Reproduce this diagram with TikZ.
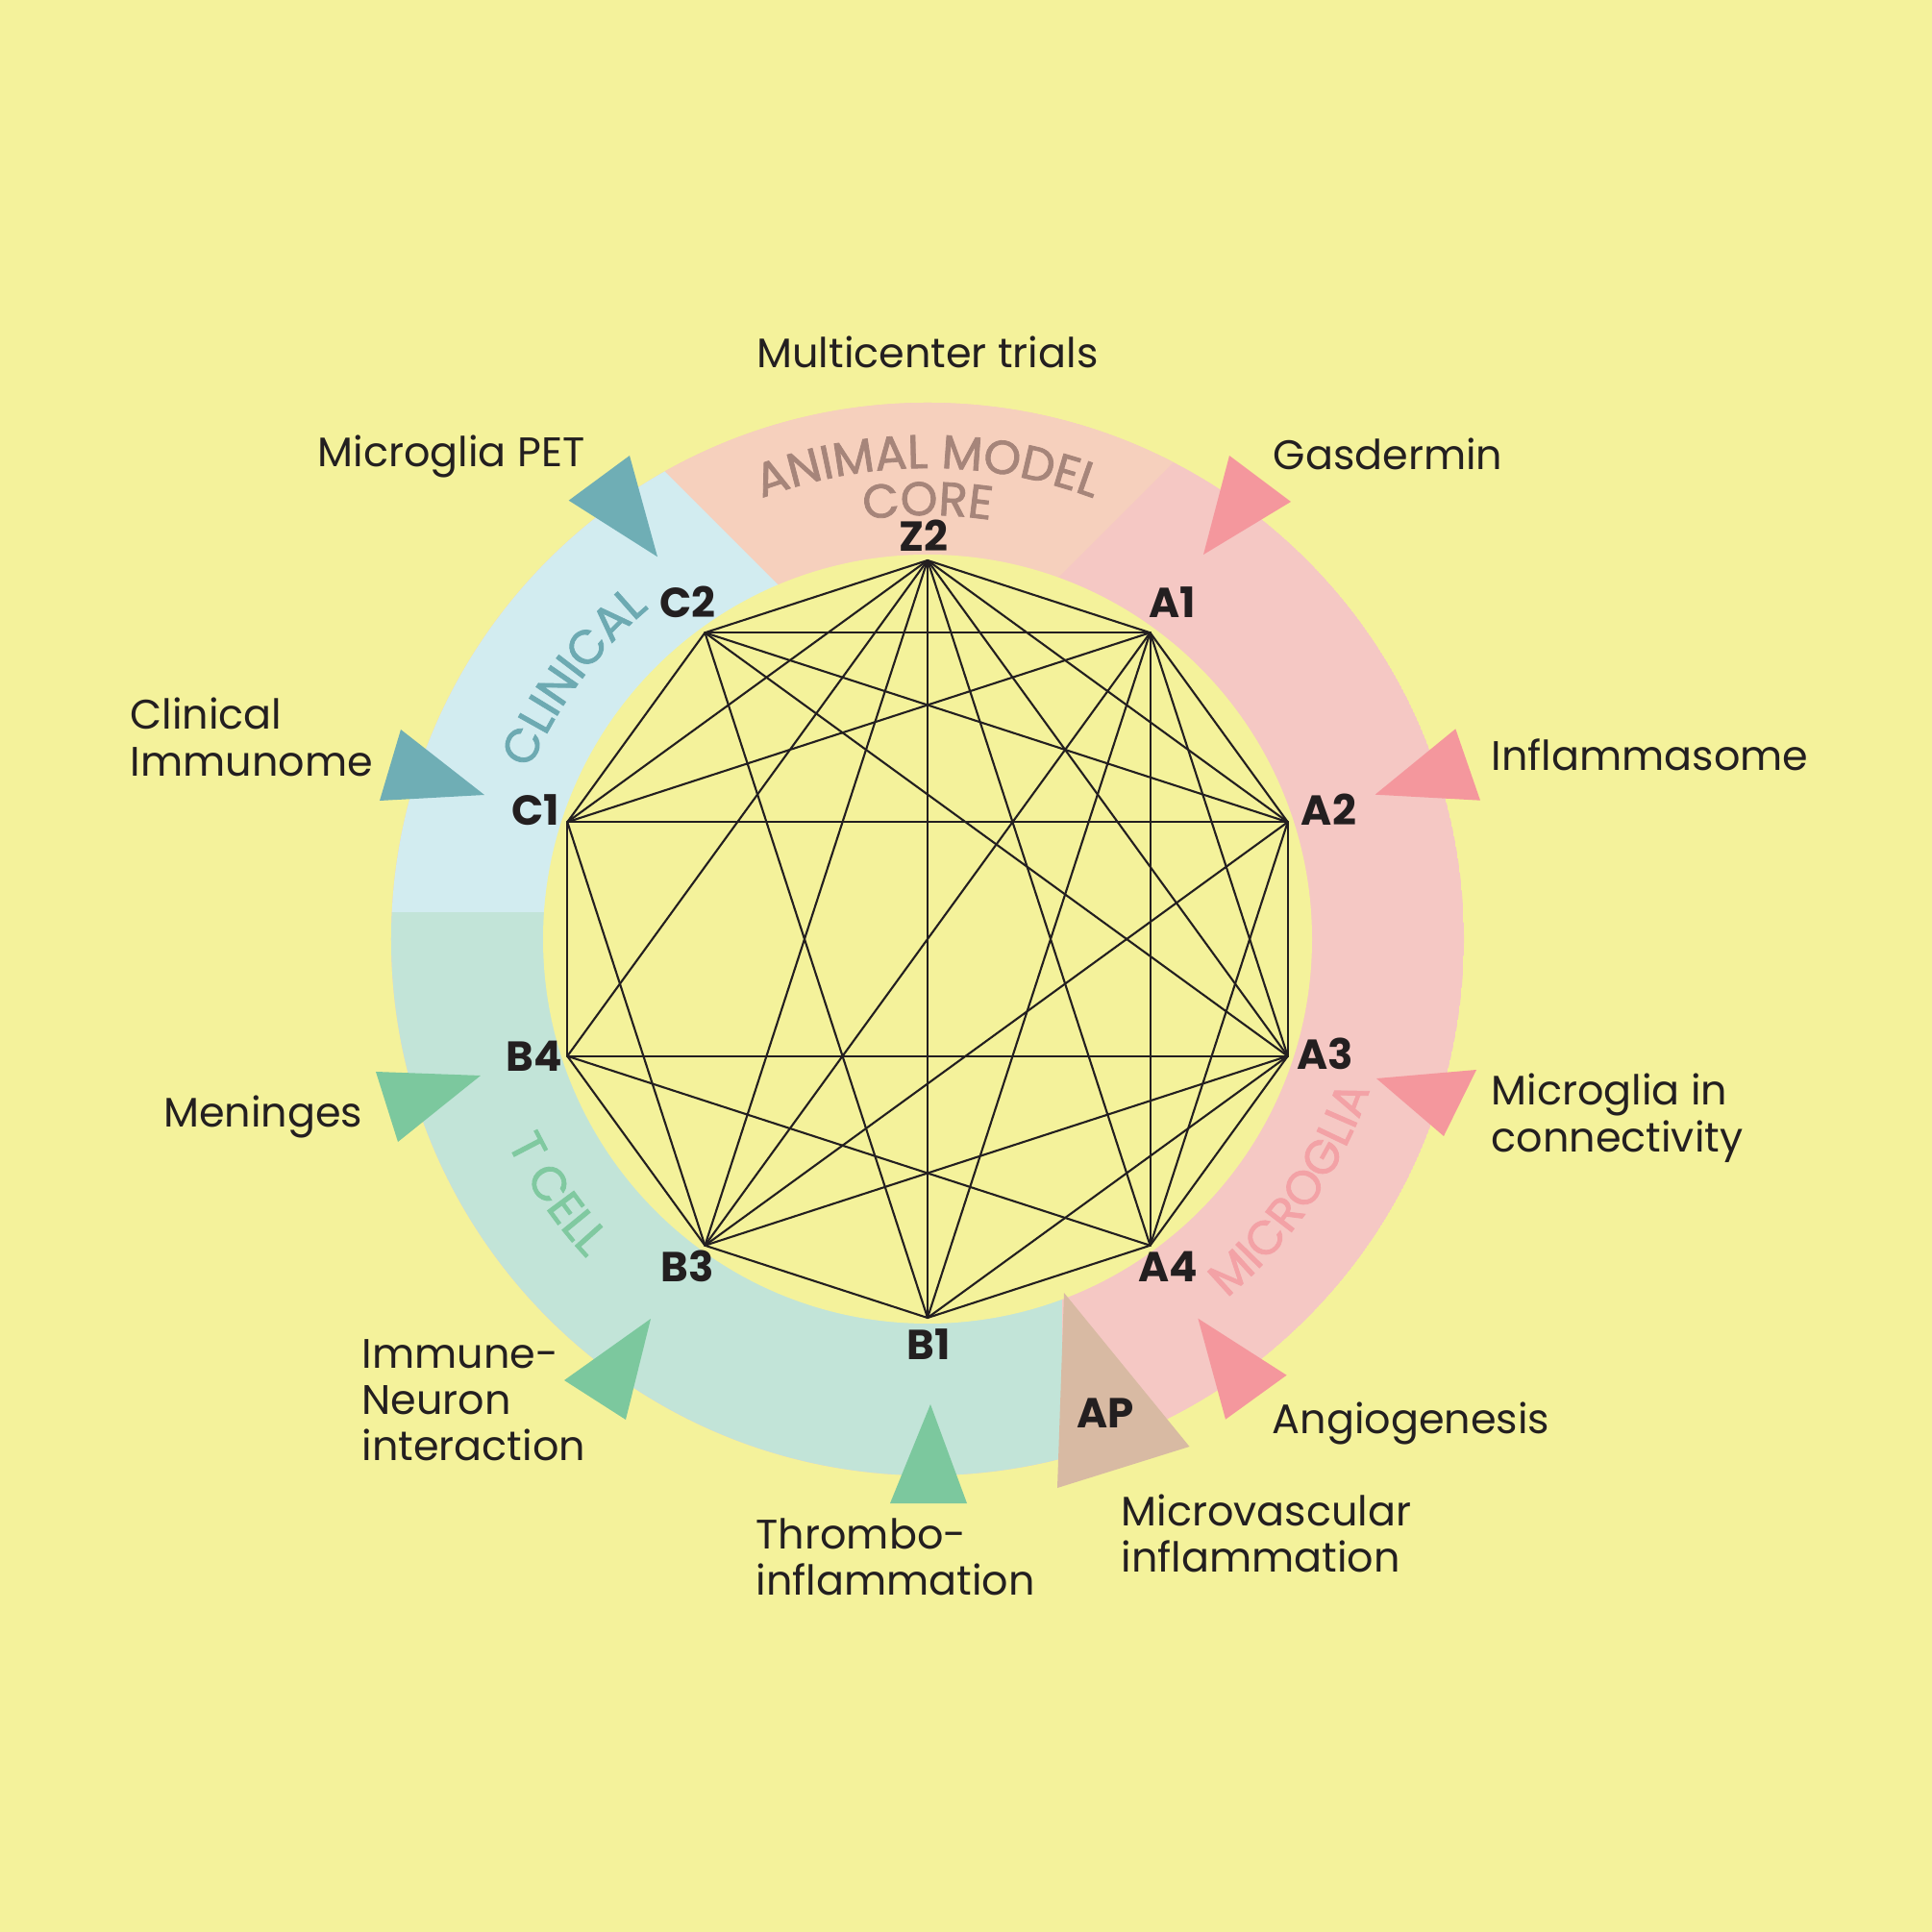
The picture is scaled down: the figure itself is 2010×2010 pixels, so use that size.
\documentclass[tikz,border=0pt]{standalone}
\usepackage{fontspec}
\setmainfont{Poppins}
\newfontface\ringface{Poppins}[FakeBold=1.6]
\usetikzlibrary{decorations.text}
\definecolor{bgY}{HTML}{F4F29B}
\definecolor{ringClin}{HTML}{D2ECF0}
\definecolor{ringAnim}{HTML}{F6D0BD}
\definecolor{ringMicro}{HTML}{F5C8C4}
\definecolor{ringT}{HTML}{C2E4D8}
\definecolor{triTeal}{HTML}{6FAEB5}
\definecolor{triGreen}{HTML}{7CC89E}
\definecolor{triPink}{HTML}{F4979D}
\definecolor{triTan}{HTML}{D8BAA3}
\definecolor{txtDark}{HTML}{231F20}
\definecolor{txtAnim}{HTML}{A6857A}
\definecolor{txtClin}{HTML}{6DAAB2}
\definecolor{txtT}{HTML}{80C9A0}
\definecolor{txtMicro}{HTML}{F3A2A6}
\newcommand\mlines[1]{\vtop{\lineskiplimit=-20pt\baselineskip=13.7pt\relax #1}}
\newcommand\fAnim{\ringface\fontsize{14}{16}\selectfont\color{txtAnim}}
\newcommand\fClin{\ringface\fontsize{14}{16}\selectfont\color{txtClin}}
\newcommand\fTcell{\ringface\fontsize{14}{16}\selectfont\color{txtT}}
\newcommand\fMicro{\ringface\fontsize{14}{16}\selectfont\color{txtMicro}}
\tikzset{
  lbl/.style={font=\fontsize{12.2}{13.7}\selectfont, text=txtDark, inner sep=0pt},
  vlbl/.style={font=\fontsize{12.4}{13}\selectfont\bfseries, text=txtDark, inner sep=0pt},
  link/.style={draw=txtDark, line width=0.6pt, line cap=round},
}
\begin{document}
\begin{tikzpicture}[x=0.01cm,y=0.01cm]
\useasboundingbox (-965,-1033) rectangle (1045,977);
\fill[bgY] (-965,-1033) rectangle (1045,977);
% ring sectors
\begin{scope}
  \clip (0,0) circle (558);
  \fill[ringMicro] (0,0) circle (558);
  \fill[ringAnim] (-13.5,226.5) -- (-700,913) -- (700,940) -- cycle;
  \fill[ringClin] (-700,28) -- (185,28) -- (-700,913) -- cycle;
  \fill[ringT] (-700,28) -- (140,28) -- (140,-700) -- (-700,-700) -- cycle;
  \fill[bgY] (0,0) circle (400);
\end{scope}
% ring texts
\path[decorate, decoration={text along path, text align=center, text={|\fAnim|ANIMAL MODEL}}]
  (130:490) arc[start angle=130, end angle=50, radius=490];
\path[decorate, decoration={text along path, text align=center, text={|\fAnim|CORE}}]
  (115:441) arc[start angle=115, end angle=65, radius=441];
\path[decorate, decoration={text along path, text align=center, text={|\fClin|CLINICAL}}]
  (173.5:450) arc[start angle=173.5, end angle=113.5, radius=450];
\path[decorate, decoration={text along path, text align=center, text={|\fMicro|MICROGLIA}}]
  (-64.5:486) arc[start angle=-64.5, end angle=-4.5, radius=486];
\path[decorate, decoration={text along path, text align=center, text={|\fTcell|T CELL}}]
  (184.5:486) arc[start angle=184.5, end angle=244.5, radius=486];
% triangles
\fill[triTeal] (-373.3,456.3) -- (-310,503) -- (-281,397.7) -- cycle;
\fill[triTeal] (-570,144) -- (-548,218) -- (-461,150) -- cycle;
\fill[triGreen] (-574,-138) -- (-465,-142) -- (-551,-211) -- cycle;
\fill[triGreen] (-378,-459) -- (-288,-395) -- (-314,-500) -- cycle;
\fill[triGreen] (-39,-587) -- (3,-484) -- (41,-587) -- cycle;
\fill[triTan] (142,-368) -- (272.5,-528) -- (135,-571) -- cycle;
\fill[triPink] (281.4,-394.7) -- (373.6,-453.7) -- (310,-499.7) -- cycle;
\fill[triPink] (467,-145) -- (571,-136) -- (537,-205) -- cycle;
\fill[triPink] (465.6,150.3) -- (549.3,218.7) -- (575,144.3) -- cycle;
\fill[triPink] (287,400) -- (314,503) -- (378,455) -- cycle;
% graph vertices
\coordinate (Z2) at (90:394);
\coordinate (A1) at (54:394);
\coordinate (A2) at (18:394);
\coordinate (A3) at (-18:394);
\coordinate (A4) at (-54:394);
\coordinate (B1) at (-90:394);
\coordinate (B3) at (-126:394);
\coordinate (B4) at (-162:394);
\coordinate (C1) at (162:394);
\coordinate (C2) at (126:394);
\foreach \a/\b in {Z2/C2, Z2/C1, Z2/B4, Z2/B3, Z2/B1, Z2/A4, Z2/A3, Z2/A2, Z2/A1,
  A1/C2, A1/C1, A1/B3, A1/B1, A1/A4, A1/A2, A1/A3,
  A2/C2, A2/C1, A2/B3, A2/A4, A2/A3,
  A3/C2, A3/B4, A3/B3, A3/B1, A3/A4,
  A4/B4, A4/B1, B1/B3, B1/C2, B3/B4, B3/C1, B4/C1, C1/C2}
  \draw[link] (\a) -- (\b);
% vertex labels
\node[vlbl, anchor=base] (lZ2) at (-4,403) {Z2};
\node[vlbl, anchor=base] (lA1) at (254.5,334) {A1};
\node[vlbl, anchor=base] (lA2) at (417.5,118) {A2};
\node[vlbl, anchor=base] (lA3) at (414,-136) {A3};
\node[vlbl, anchor=base] (lA4) at (250.5,-356) {A4};
\node[vlbl, anchor=base] (lB1) at (1,-437) {B1};
\node[vlbl, anchor=base] (lB3) at (-249.5,-356) {B3};
\node[vlbl, anchor=base] (lB4) at (-409.5,-138) {B4};
\node[vlbl, anchor=base] (lC1) at (-407.5,118) {C1};
\node[vlbl, anchor=base] (lC2) at (-249.5,334) {C2};
\node[vlbl, anchor=base] (tAP) at (185,-508) {AP};
% outer labels
\node[lbl, anchor=base] (tMulti) at (0,594) {Multicenter trials};
\node[lbl, anchor=base east] (tPET) at (-356,491) {Microglia PET};
\node[lbl, anchor=base west] (tGas) at (359,488) {Gasdermin};
\node[lbl, anchor=base west] (tClin) at (-830,218) {\mlines{\hbox{Clinical}\hbox{Immunome}}};
\node[lbl, anchor=base west] (tInfl) at (586,175) {Inflammasome};
\node[lbl, anchor=base east] (tMen) at (-587,-196) {Meninges};
\node[lbl, anchor=base west] (tConn) at (586,-173) {\mlines{\hbox{Microglia in}\hbox{connectivity}}};
\node[lbl, anchor=base west] (tImm) at (-589,-446) {\mlines{\hbox{Immune-}\hbox{Neuron}\hbox{interaction}}};
\node[lbl, anchor=base west] (tAng) at (358,-514) {Angiogenesis};
\node[lbl, anchor=base west] (tThr) at (-179,-634) {\mlines{\hbox{Thrombo-}\hbox{inflammation}}};
\node[lbl, anchor=base west] (tMicv) at (201,-610) {\mlines{\hbox{Microvascular}\hbox{inflammation}}};
\end{tikzpicture}
\end{document}
